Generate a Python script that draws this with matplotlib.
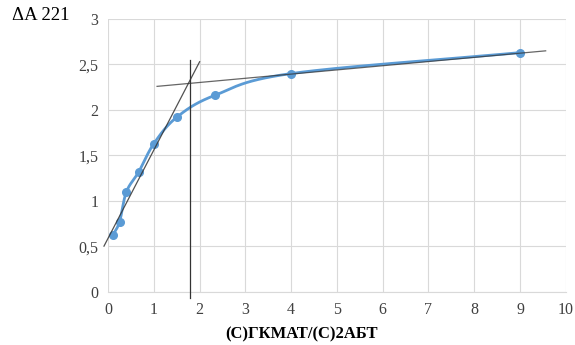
import numpy as np
import matplotlib
matplotlib.use('Agg')
import matplotlib.pyplot as plt

# data
ratio = [0.1, 0.25, 0.4, 0.67, 1.0, 1.5, 2.33, 4.0, 9.0]
dA = [0.62, 0.77, 1.10, 1.32, 1.63, 1.92, 2.16, 2.40, 2.63]

# tangent lines (x range, intercept, slope)
tan1_x = [-0.09, 2.0]
tan1_b, tan1_k = 0.59, 0.97
tan2_x = [1.07, 9.56]
tan2_b, tan2_k = 2.21, 0.046
x_cross = 1.78
cross_y = [-0.07, 2.55]

xticks = list(range(0, 11))
yticks = [0, 0.5, 1, 1.5, 2, 2.5, 3]
ytick_labels = ['0', '0,5', '1', '1,5', '2', '2,5', '3']


def smooth(xs, ys, n=30):
    # catmull-rom like excel smoothed line
    xs = np.asarray(xs, float)
    ys = np.asarray(ys, float)
    P = np.column_stack([xs, ys])
    P = np.vstack([2 * P[0] - P[1], P, 2 * P[-1] - P[-2]])
    out = []
    for i in range(1, len(P) - 2):
        p0, p1, p2, p3 = P[i - 1], P[i], P[i + 1], P[i + 2]
        t = np.linspace(0, 1, n)[:, None]
        c = 0.5 * ((2 * p1) + (-p0 + p2) * t + (2 * p0 - 5 * p1 + 4 * p2 - p3) * t ** 2
                   + (-p0 + 3 * p1 - 3 * p2 + p3) * t ** 3)
        out.append(c)
    out = np.vstack(out)
    return out[:, 0], out[:, 1]


plt.rcParams['font.family'] = ['Liberation Serif', 'DejaVu Serif']

fig = plt.figure(figsize=(5.75, 3.45), dpi=100)
ax = fig.add_axes([0.188, 0.154, 0.796, 0.791])

sx, sy = smooth(ratio, dA)
ax.plot(sx, sy, color='#5B9BD5', lw=2, zorder=3)
ax.plot(ratio, dA, 'o', color='#5B9BD5', ms=5.5, zorder=4)

tx = np.array(tan1_x)
ax.plot(tx, tan1_b + tan1_k * tx, color='#333333', lw=0.9, zorder=5, clip_on=False, alpha=0.85)
tx = np.array(tan2_x)
ax.plot(tx, tan2_b + tan2_k * tx, color='#333333', lw=0.9, zorder=5, clip_on=False, alpha=0.75)
ax.plot([x_cross, x_cross], cross_y, color='#333333', lw=0.9, zorder=5, clip_on=False)

ax.set_xlim(0, 10)
ax.set_ylim(0, 3)
ax.set_xticks(xticks)
ax.set_yticks(yticks)
ax.set_yticklabels(ytick_labels)
ax.grid(True, color='#d9d9d9', lw=0.8)
ax.set_axisbelow(True)
for s in ['top', 'right', 'left']:
    ax.spines[s].set_visible(False)
ax.spines['bottom'].set_color('#d9d9d9')
ax.tick_params(length=0, labelsize=11.5, colors='#404040', pad=7)

fig.text(0.02, 0.955, 'ΔA 221', fontsize=13.5, ha='left', va='center')
fig.text(0.525, 0.03, '(C)ГКМАТ/(C)2АБТ', fontsize=12, fontweight='bold', ha='center', va='center')

fig.savefig('out.png')
